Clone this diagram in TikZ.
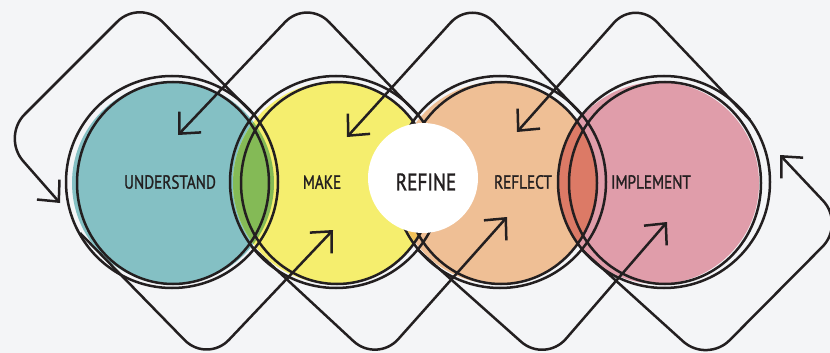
\documentclass[tikz,border=0pt]{standalone}
\usepackage{fontspec}
\newfontfamily\stagefont{PT Sans}[FakeStretch=0.8, FakeBold=1.2]
\usetikzlibrary{positioning, arrows.meta}

\definecolor{bgc}{HTML}{F4F5F7}
\definecolor{tealc}{HTML}{84C0C4}
\definecolor{yellowc}{HTML}{F5EE6E}
\definecolor{orangec}{HTML}{EFBF95}
\definecolor{pinkc}{HTML}{E09DAA}
\definecolor{greenc}{HTML}{84BA56}
\definecolor{goldc}{HTML}{F2C15A}
\definecolor{salmonc}{HTML}{DC7A66}
\definecolor{inkc}{HTML}{231F20}

\tikzset{
  blob/.style={circle, minimum size=202pt, inner sep=0pt},
  ring/.style={draw=inkc, line width=2.5pt},
  loopline/.style={draw=inkc, line width=2.5pt, rounded corners=32pt,
    -{Straight Barb[length=16pt, width=30pt]}},
  stage/.style={font=\stagefont\fontsize{19}{19}\selectfont, text=inkc, inner sep=0pt},
}

\begin{document}
\begin{tikzpicture}[x=1pt, y=-1pt]
\fill[bgc] (0,0) rectangle (830,353);
\useasboundingbox (0,0) rectangle (830,353);

% colour discs
\node[blob, fill=tealc] (understand) at (173,183) {};
\node[blob, fill=yellowc, on grid, right=161pt of understand] (make) {};
\node[blob, fill=orangec, on grid, right=163pt of make] (reflect) {};
\node[blob, fill=pinkc, on grid, right=161pt of reflect] (implement) {};

% overlaps
\begin{scope}
  \clip (understand.center) circle (101pt);
  \fill[greenc] (make.center) circle (101pt);
\end{scope}
\begin{scope}
  \clip (make.center) circle (101pt);
  \fill[goldc] (reflect.center) circle (101pt);
\end{scope}
\begin{scope}
  \clip (reflect.center) circle (101pt);
  \fill[salmonc] (implement.center) circle (101pt);
\end{scope}

% pencil rings
\foreach \cx in {172,336,500,664}{
  \draw[ring] (\cx,182) circle (106pt);
  \draw[ring] (\cx+1,183) ellipse [x radius=96pt, y radius=101pt];
}

% white disc in the middle
\node[circle, fill=white, minimum size=110pt, inner sep=0pt] (refine) at (423,178) {};

% loops over the top
\draw[loopline] (254,115) -- (140,-1) -- (2,137) -- (60,203);
\draw[loopline] (418,115) -- (307,-1) -- (178,135);
\draw[loopline] (582,115) -- (472,-1) -- (347,137);
\draw[loopline] (750,120) -- (635,-1) -- (517,132);
% loops under the bottom
\draw[loopline] (80,233) -- (207,363) -- (333,230);
\draw[loopline] (252,247) -- (377,363) -- (507,217);
\draw[loopline] (418,250) -- (545,363) -- (667,222);
\draw[loopline] (582,250) -- (707,363) -- (845,224) -- (780,155);

% labels
\node[stage] (understand-lbl) at (170,182) {UNDERSTAND};
\node[stage] (make-lbl) at (322,182) {MAKE};
\node[stage, font=\stagefont\fontsize{24}{24}\selectfont] (refine-lbl) at (426,182) {REFINE};
\node[stage] (reflect-lbl) at (523,182) {REFLECT};
\node[stage] (implement-lbl) at (651,182) {IMPLEMENT};
\end{tikzpicture}
\end{document}
